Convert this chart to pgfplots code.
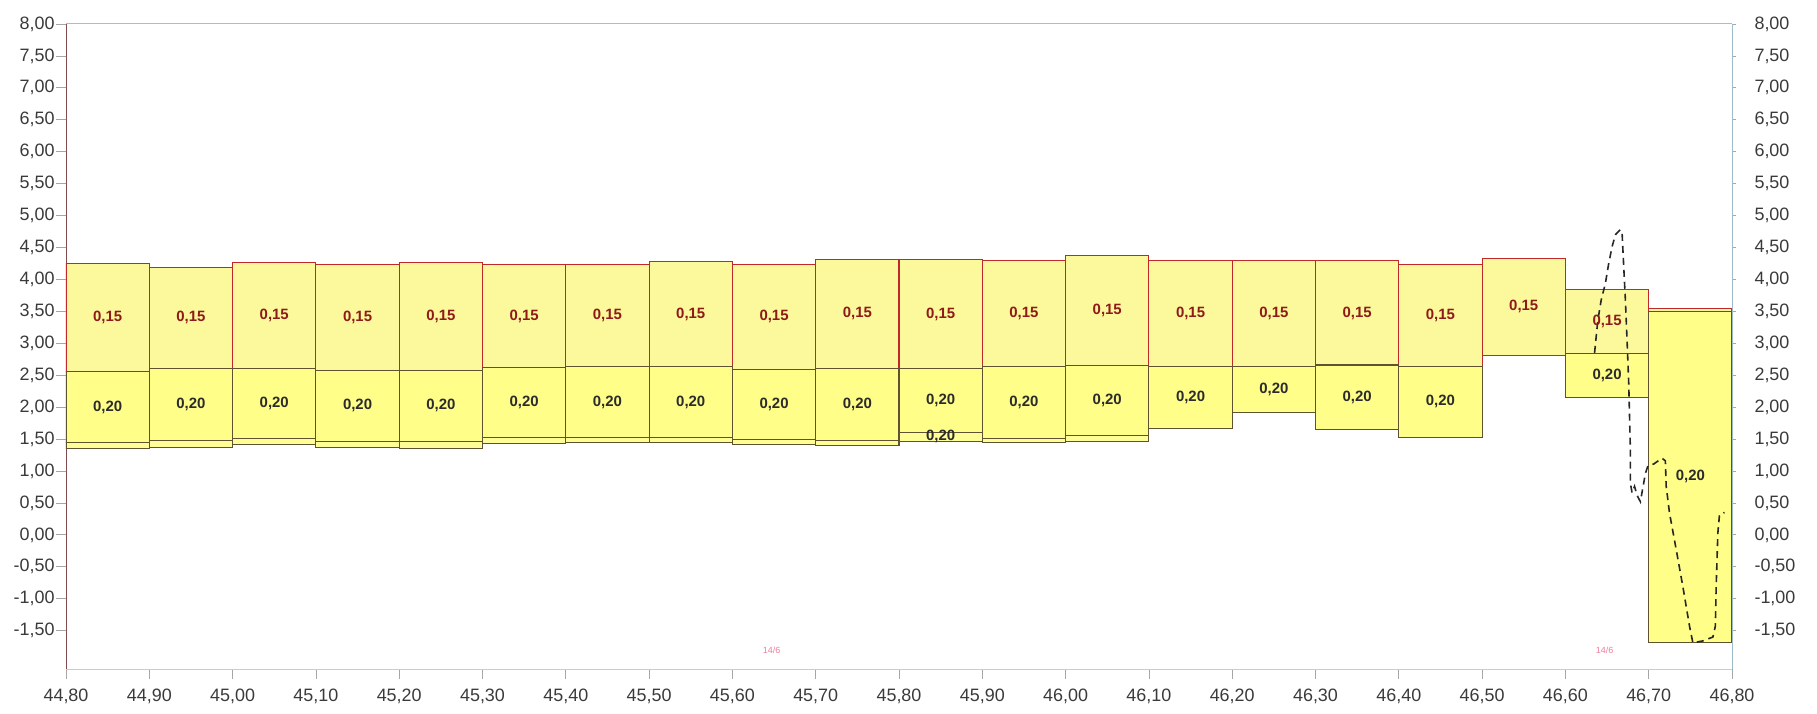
\documentclass[border=0pt]{standalone}
\usepackage{fontspec}
\setmainfont{Liberation Sans}
\usepackage{pgfplots}
\usepackage{pgfplotstable}
\pgfplotsset{compat=1.18}

\definecolor{upfill}{HTML}{FCF99C}
\definecolor{midfill}{HTML}{FFFE88}
\definecolor{lowfill}{HTML}{FFFD96}
\definecolor{upedge}{HTML}{C0282A}
\definecolor{midedge}{HTML}{5E5230}
\definecolor{labred}{HTML}{8E1A1A}
\definecolor{labdark}{HTML}{2B2B2B}
\definecolor{tickgray}{HTML}{3A3A3A}
\definecolor{rightaxis}{HTML}{9DBBC8}
\definecolor{notepink}{HTML}{F07C9A}

% layer boundaries of each 0.10 interval (centre, bottom, lower, middle, top)
\pgfplotstableread{
xc    bot    low    mid    top
44.85  1.355  1.445  2.555  4.250
44.95  1.365  1.475  2.610  4.190
45.05  1.420  1.510  2.610  4.270
45.15  1.365  1.460  2.580  4.230
45.25  1.355  1.460  2.580  4.260
45.35  1.430  1.520  2.620  4.230
45.45  1.440  1.530  2.630  4.230
45.55  1.440  1.520  2.635  4.275
45.65  1.410  1.490  2.590  4.240
45.75  1.400  1.475  2.610  4.310
45.85  1.465  1.610  2.600  4.310
45.95  1.440  1.510  2.635  4.290
46.05  1.465  1.550  2.650  4.370
46.15  1.660  1.660  2.640  4.300
46.25  1.910  1.910  2.640  4.290
46.35  1.650  1.650  2.660  4.290
46.45  1.530  1.530  2.640  4.240
46.55  2.810  2.810  2.810  4.330
46.65  2.150  2.150  2.840  3.840
46.75 -1.680 -1.680  3.500  3.550
}\boxes

\pgfplotsset{
  common/.style={
    scale only axis, width=1666bp, height=645bp,
    xmin=44.8, xmax=46.8, ymin=-2.1, ymax=8,
    enlargelimits=false,
    ytick={-1.5,-1,-0.5,0,0.5,1,1.5,2,2.5,3,3.5,4,4.5,5,5.5,6,6.5,7,7.5,8},
    tick align=outside,
    major tick length=10bp,
    tick style={draw=gray!70, line width=0.8bp},
    ticklabel style={font=\fontsize{18}{20}\selectfont, text=tickgray},
    /pgf/number format/fixed,
    /pgf/number format/fixed zerofill,
    /pgf/number format/precision=2,
    /pgf/number format/use comma,
    /pgf/number format/assume math mode=true,
  },
  boxlabel/.style={
    only marks, mark=text, text mark={},
    nodes near coords={\textbf{#1}},
    nodes near coords style={anchor=center, inner sep=0pt,
      font=\fontsize{15}{16}\selectfont},
  },
}

\begin{document}
\begin{tikzpicture}
\useasboundingbox (-66bp,-45bp) rectangle (1751bp,669bp);

% stacked layers
\begin{axis}[common,
  axis x line*=bottom, axis y line*=left,
  x axis line style={-, draw=gray!40, line width=1bp},
  y axis line style={-, draw=gray!75!red!80!black, line width=0.9bp},
  xtick={44.8,44.9,45.0,45.1,45.2,45.3,45.4,45.5,45.6,45.7,45.8,45.9,46.0,46.1,46.2,46.3,46.4,46.5,46.6,46.7,46.8},
  xticklabel style={yshift=-6bp},
  yticklabel style={xshift=2bp},
  ybar stacked, stack negative=on previous, bar width=0.1,
]
\addplot[draw=none, fill=none] table[x=xc, y=bot] \boxes;
\addplot[fill=lowfill, draw=midedge, line width=1.1bp]
  table[x=xc, y expr=\thisrow{low}-\thisrow{bot}] \boxes;
\addplot[fill=midfill, draw=midedge, line width=1.1bp]
  table[x=xc, y expr=\thisrow{mid}-\thisrow{low}] \boxes;
\addplot[fill=upfill, draw=upedge, line width=1.1bp]
  table[x=xc, y expr=\thisrow{top}-\thisrow{mid}] \boxes;
\end{axis}

% right scale, frame, layer labels and the pencilled trace
\begin{axis}[common,
  axis x line*=top, axis y line*=right,
  xtick=\empty,
  x axis line style={-, draw=gray!55, line width=1bp},
  y axis line style={-, draw=rightaxis, line width=1bp},
  major tick length=4bp,
  yticklabel style={xshift=15bp},
]
\addplot[boxlabel={0,15}, nodes near coords style={text=labred},
  skip coords between index={19}{20}]
  table[x=xc, y expr={0.5*(\thisrow{top}+\thisrow{mid})}] \boxes;
\addplot[boxlabel={0,20}, nodes near coords style={text=labdark},
  skip coords between index={17}{18}]
  table[x=xc, y expr={0.5*(\thisrow{mid}+\thisrow{low})}] \boxes;
\addplot[boxlabel={0,20}, nodes near coords style={text=labdark}]
  coordinates {(45.85,1.535)};

\addplot[only marks, mark=text, text mark={},
  nodes near coords={14/6},
  nodes near coords style={anchor=center, text=notepink,
    font=\fontsize{9}{10}\selectfont}]
  coordinates {(45.647,-1.80) (46.647,-1.80)};

\addplot[black!85, line width=1.6bp, dash pattern=on 7bp off 5bp]
  coordinates {
  (46.635,2.85) (46.639,3.37) (46.643,3.68) (46.648,3.94) (46.652,4.25)
  (46.656,4.51) (46.660,4.70) (46.666,4.78) (46.668,4.74) (46.670,4.20)
  (46.672,3.68) (46.674,3.05) (46.676,2.38) (46.677,1.85) (46.678,1.33)
  (46.678,0.81) (46.680,0.66) (46.683,0.76) (46.686,0.62) (46.690,0.52)
  (46.696,0.96) (46.699,1.08) (46.706,1.11) (46.716,1.20) (46.720,1.16)
  (46.721,0.76) (46.725,0.34) (46.733,-0.23) (46.741,-0.81) (46.749,-1.43)
  (46.753,-1.69) (46.765,-1.66) (46.777,-1.60) (46.780,-1.43) (46.781,-0.81)
  (46.783,0.03) (46.785,0.32) (46.791,0.35)
  };
\end{axis}
\end{tikzpicture}
\end{document}
